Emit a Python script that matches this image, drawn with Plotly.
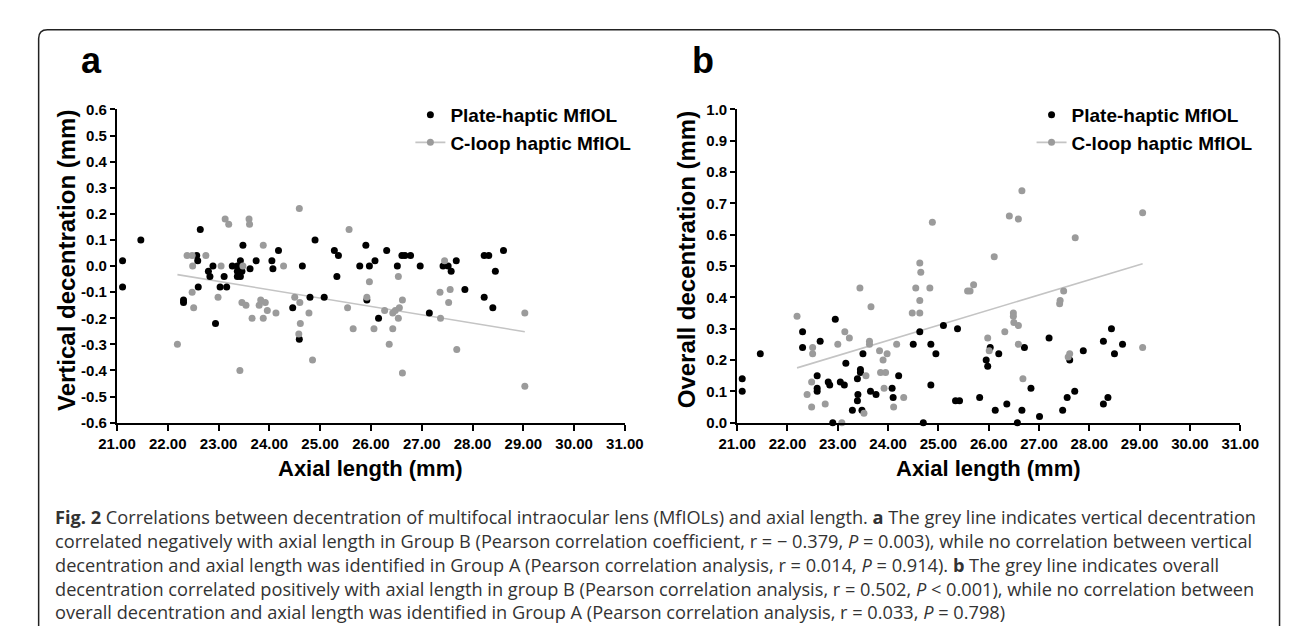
import numpy as np
import plotly.graph_objects as go

# ---------------- data ----------------
# Panel a: vertical decentration vs axial length
plate_a_x = [21.11, 21.11, 21.47, 22.31, 22.31, 22.64, 22.57, 22.59, 22.60, 22.80,
             22.83, 22.89, 22.94, 23.03, 23.11, 23.16, 23.27, 23.37, 23.43, 23.37,
             23.37, 23.43, 23.48, 23.46, 23.62, 23.74, 24.05, 24.07, 24.18, 24.46,
             24.59, 24.65, 24.80, 24.90, 25.08, 25.28, 25.36, 25.33, 25.78, 25.90,
             25.97, 26.08, 25.92, 26.15, 26.31, 26.52, 26.61, 26.67, 26.78, 26.97,
             27.15, 27.42, 27.52, 27.58, 27.68, 27.85, 28.23, 28.32, 28.23, 28.40,
             28.45, 28.61]
plate_a_y = [0.02, -0.08, 0.10, -0.13, -0.14, 0.14, 0.04, 0.02, -0.08, -0.02,
             -0.04, 0.00, -0.22, -0.08, -0.04, -0.08, 0.00, 0.00, 0.02, -0.02,
             -0.04, -0.04, 0.08, -0.02, -0.01, 0.02, 0.02, -0.01, 0.06, -0.16,
             -0.28, 0.00, -0.12, 0.10, -0.12, 0.06, 0.04, -0.04, 0.00, 0.08,
             0.00, 0.02, -0.13, -0.20, 0.06, 0.00, 0.04, 0.04, 0.04, 0.00,
             -0.18, 0.00, 0.00, -0.02, 0.02, -0.09, 0.04, 0.04, -0.12, -0.16,
             -0.02, 0.06]
cloop_a_x = [22.19, 22.38, 22.48, 22.49, 22.48, 22.51, 22.75, 22.99, 23.05, 23.13,
             23.20, 23.42, 23.48, 23.46, 23.54, 23.60, 23.61, 23.66, 23.80, 23.83,
             23.88, 23.88, 23.92, 23.96, 24.13, 24.28, 24.50, 24.59, 24.60, 24.61,
             24.58, 24.78, 24.85, 25.54, 25.57, 25.65, 25.92, 25.97, 26.06, 26.27,
             26.36, 26.43, 26.43, 26.48, 26.54, 26.56, 26.54, 26.62, 26.62, 27.36,
             27.37, 27.45, 27.53, 27.56, 27.69, 29.03, 29.03]
cloop_a_y = [-0.30, 0.04, 0.04, 0.00, -0.10, -0.16, 0.04, -0.12, 0.00, 0.18,
             0.16, -0.40, 0.00, -0.14, -0.15, 0.18, 0.16, -0.20, -0.15, -0.13,
             0.08, -0.20, -0.14, -0.17, -0.18, 0.00, -0.12, 0.22, -0.14, -0.22,
             -0.26, -0.18, -0.36, -0.16, 0.14, -0.24, -0.12, -0.06, -0.24, -0.17,
             -0.30, -0.18, -0.24, -0.17, -0.20, -0.16, -0.04, -0.13, -0.41, -0.10,
             -0.20, 0.02, -0.14, -0.09, -0.32, -0.18, -0.46]

# Panel b: overall decentration vs axial length
plate_b_x = [21.10, 21.10, 21.46, 22.30, 22.30, 22.59, 22.59, 22.59, 22.65, 22.81,
             22.84, 22.90, 22.95, 23.05, 23.13, 23.16, 23.29, 23.39, 23.40, 23.39,
             23.45, 23.45, 23.50, 23.48, 23.65, 23.76, 24.08, 24.10, 24.21, 24.50,
             24.63, 24.70, 24.85, 24.85, 24.95, 25.10, 25.38, 25.34, 25.42, 25.82,
             25.95, 25.98, 26.03, 26.20, 26.13, 26.36, 26.57, 26.66, 26.71, 26.84,
             27.01, 27.20, 27.47, 27.56, 27.61, 27.71, 27.88, 28.28, 28.37, 28.28,
             28.44, 28.50, 28.66]
plate_b_y = [0.14, 0.10, 0.22, 0.29, 0.24, 0.15, 0.11, 0.10, 0.26, 0.13,
             0.12, 0.00, 0.33, 0.13, 0.12, 0.19, 0.04, 0.14, 0.09, 0.07,
             0.17, 0.16, 0.22, 0.04, 0.10, 0.09, 0.11, 0.08, 0.15, 0.25,
             0.29, 0.00, 0.25, 0.12, 0.22, 0.31, 0.30, 0.07, 0.07, 0.08,
             0.20, 0.18, 0.24, 0.22, 0.04, 0.06, 0.00, 0.04, 0.24, 0.11,
             0.02, 0.27, 0.04, 0.08, 0.20, 0.10, 0.23, 0.06, 0.08, 0.26,
             0.30, 0.22, 0.25]
cloop_b_x = [22.19, 22.39, 22.50, 22.50, 22.48, 22.48, 22.75, 23.00, 23.08, 23.14,
             23.23, 23.44, 23.56, 23.52, 23.63, 23.63, 23.66, 23.83, 23.90, 23.98,
             23.85, 23.95, 23.92, 24.11, 24.17, 24.31, 24.48, 24.55, 24.63, 24.65,
             24.63, 24.63, 24.83, 24.88, 25.58, 25.63, 25.70, 25.98, 26.01, 26.11,
             26.32, 26.41, 26.49, 26.49, 26.50, 26.59, 26.59, 26.59, 26.66, 26.68,
             27.41, 27.42, 27.49, 27.58, 27.61, 27.72, 29.06, 29.06]
cloop_b_y = [0.34, 0.09, 0.24, 0.22, 0.13, 0.05, 0.06, 0.25, 0.00, 0.29,
             0.27, 0.43, 0.15, 0.03, 0.26, 0.25, 0.37, 0.23, 0.20, 0.22,
             0.16, 0.16, 0.11, 0.05, 0.25, 0.08, 0.35, 0.43, 0.51, 0.48,
             0.39, 0.35, 0.43, 0.64, 0.42, 0.42, 0.44, 0.27, 0.23, 0.53,
             0.29, 0.66, 0.35, 0.34, 0.32, 0.65, 0.31, 0.25, 0.74, 0.14,
             0.38, 0.39, 0.42, 0.21, 0.22, 0.59, 0.67, 0.24]

x_ticks = [21, 22, 23, 24, 25, 26, 27, 28, 29, 30, 31]
ya_ticks = [round(-0.6 + 0.1 * i, 1) for i in range(13)]
yb_ticks = [round(0.1 * i, 1) for i in range(11)]

series_names = ["Plate-haptic MfIOL", "C-loop haptic MfIOL"]
x_title = "Axial length (mm)"
ya_title = "Vertical decentration (mm)"
yb_title = "Overall decentration (mm)"

caption_lines = [
    "<b>Fig. 2</b> Correlations between decentration of multifocal intraocular lens (MfIOLs) and axial length. <b>a</b> The grey line indicates vertical decentration",
    "correlated negatively with axial length in Group B (Pearson correlation coefficient, r = \u2212 0.379, <i>P</i> = 0.003), while no correlation between vertical",
    "decentration and axial length was identified in Group A (Pearson correlation analysis, r = 0.014, <i>P</i> = 0.914). <b>b</b> The grey line indicates overall",
    "decentration correlated positively with axial length in group B (Pearson correlation analysis, r = 0.502, <i>P</i> < 0.001), while no correlation between",
    "overall decentration and axial length was identified in Group A (Pearson correlation analysis, r = 0.033, <i>P</i> = 0.798)",
]

# ---------------- styling / layout ----------------
W, H = 1292, 626


def px(x):
    return x / W


def py(y):
    return 1 - y / H


BLACK = "#000000"
GREY = "#9b9b9b"
LINE_GREY = "#c4c4c4"
FONT = "Liberation Sans, Arial, sans-serif"
MS = 7

fig = go.Figure()


def fit_line(xs, ys):
    c = np.polyfit(xs, ys, 1)
    xl = np.array([min(xs), max(xs)])
    return xl, np.polyval(c, xl)


panels = [
    ("x", "y", "legend", plate_a_x, plate_a_y, cloop_a_x, cloop_a_y),
    ("x2", "y2", "legend2", plate_b_x, plate_b_y, cloop_b_x, cloop_b_y),
]
for xa, ya, lg, bx, by, gx, gy in panels:
    flx, fly = fit_line(gx, gy)
    fig.add_trace(go.Scatter(x=flx, y=fly, mode="lines", line=dict(color=LINE_GREY, width=1.6),
                             showlegend=False, xaxis=xa, yaxis=ya, hoverinfo="skip"))
    fig.add_trace(go.Scatter(x=bx, y=by, mode="markers", name=series_names[0],
                             marker=dict(color=BLACK, size=MS), cliponaxis=False,
                             legend=lg, xaxis=xa, yaxis=ya))
    fig.add_trace(go.Scatter(x=gx, y=gy, mode="markers", name=series_names[1],
                             marker=dict(color=GREY, size=MS), cliponaxis=False,
                             showlegend=False, xaxis=xa, yaxis=ya))
    fig.add_trace(go.Scatter(x=[None], y=[None], mode="lines+markers", name=series_names[1],
                             marker=dict(color=GREY, size=MS), line=dict(color=LINE_GREY, width=1.6),
                             legend=lg, xaxis=xa, yaxis=ya))

tickfont = dict(family=FONT, size=15, color=BLACK, weight="bold")
common_x = dict(range=[21, 31], tickvals=x_ticks, ticktext=[f"{v:.2f}" for v in x_ticks],
                showline=True, linecolor=BLACK, linewidth=2, ticks="outside", ticklen=6,
                tickwidth=2, tickcolor=BLACK, showgrid=False, zeroline=False, tickfont=tickfont)
common_y = dict(showline=True, linecolor=BLACK, linewidth=2, ticks="outside", ticklen=5,
                tickwidth=2, tickcolor=BLACK, showgrid=False, zeroline=False, tickfont=tickfont)

ydom = [py(417), py(95)]
fig.update_layout(
    width=W, height=H, margin=dict(l=0, r=0, t=0, b=0),
    paper_bgcolor="white", plot_bgcolor="white",
    xaxis=dict(domain=[px(92.7), px(616)], anchor="y", **common_x),
    yaxis=dict(domain=ydom, anchor="x", range=[-0.6, 0.6], tickvals=ya_ticks,
               ticktext=[f"{v:.1f}" for v in ya_ticks], **common_y),
    xaxis2=dict(domain=[px(731.7), px(1250)], anchor="y2", **common_x),
    yaxis2=dict(domain=ydom, anchor="x2", range=[0, 1], tickvals=yb_ticks,
                ticktext=[f"{v:.1f}" for v in yb_ticks], **common_y),
    legend=dict(x=px(395), y=py(81), xanchor="left", yanchor="top", bgcolor="rgba(0,0,0,0)",
                font=dict(family=FONT, size=19, color=BLACK, weight="bold"), tracegroupgap=0),
    legend2=dict(x=px(1035), y=py(81), xanchor="left", yanchor="top", bgcolor="rgba(0,0,0,0)",
                 font=dict(family=FONT, size=19, color=BLACK, weight="bold"), tracegroupgap=0),
    showlegend=True,
)

ann = []
# panel letters
ann.append(dict(text="<b>a</b>", x=px(54), y=py(45), xref="paper", yref="paper", xanchor="left",
                yanchor="middle", showarrow=False, font=dict(family=FONT, size=36, color=BLACK)))
ann.append(dict(text="<b>b</b>", x=px(683), y=py(45), xref="paper", yref="paper", xanchor="left",
                yanchor="middle", showarrow=False, font=dict(family=FONT, size=36, color=BLACK)))
# axis titles
for cx, t in [(40, ya_title), (679, yb_title)]:
    ann.append(dict(text=f"<b>{t}</b>", x=px(cx), y=py(250), xref="paper", yref="paper",
                    textangle=-90, showarrow=False, xanchor="center", yanchor="middle",
                    font=dict(family=FONT, size=24, color=BLACK)))
for cx in [354, 991]:
    ann.append(dict(text=f"<b>{x_title}</b>", x=px(cx), y=py(464), xref="paper", yref="paper",
                    showarrow=False, xanchor="center", yanchor="middle",
                    font=dict(family=FONT, size=22, color=BLACK)))
# caption
for i, line in enumerate(caption_lines):
    ann.append(dict(text=line, x=px(27), y=py(514 + 24.5 * i), xref="paper", yref="paper",
                    showarrow=False, xanchor="left", yanchor="middle", align="left",
                    font=dict(family="Open Sans, sans-serif", size=18.2, color="#333333")))
fig.update_layout(annotations=ann)

# rounded border of the figure box (bottom runs off the picture)
L, T, R, B, r = 12, 13, 1290.5, 660, 9
path = (f"M {px(L)},{py(B)} L {px(L)},{py(T + r)} Q {px(L)},{py(T)} {px(L + r)},{py(T)} "
        f"L {px(R - r)},{py(T)} Q {px(R)},{py(T)} {px(R)},{py(T + r)} L {px(R)},{py(B)}")
fig.add_shape(type="path", path=path, xref="paper", yref="paper",
              line=dict(color="#222222", width=1.5))

fig.write_html("out.html")
